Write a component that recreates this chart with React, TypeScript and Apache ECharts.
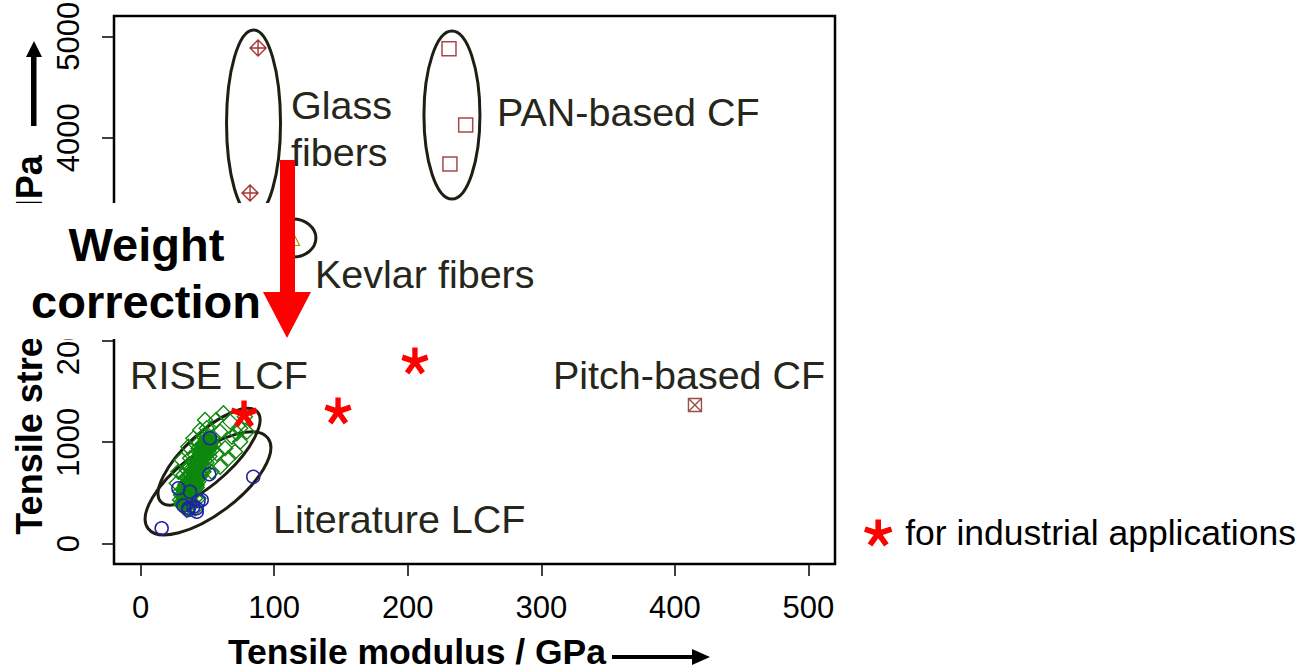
import React, { useEffect, useRef } from 'react';
import * as echarts from 'echarts';

// ---- data ----
const xTicks = [0, 100, 200, 300, 400, 500];
const yTicks = [0, 1000, 2000, 3000, 4000, 5000];

const glassFibers = [[87.9, 4885], [81.9, 3456]];
const panCF = [[230.9, 4878], [243.4, 4126], [231.6, 3742]];
const kevlarFibers = [[115.6, 2983]];
const pitchCF = [[415.1, 1367]];
const industrial = [[77.4, 1278], [147.8, 1308], [205.4, 1800]];

const riseLCF = [
  [62, 1285], [56.5, 1219], [67, 1203], [74.5, 1137], [78, 1252], [49.5, 1137], [59.5, 1104],
  [68.3, 1055], [74.5, 1005], [39.5, 1038], [35.7, 956], [63.2, 940], [70.7, 907], [57, 890],
  [65.7, 841], [59.5, 759], [30.7, 825], [28.2, 710], [27, 595], [48.2, 1219], [44.5, 1120],
  [79.5, 1104], [53.2, 710], [33.2, 545], [37, 414], [43.2, 447], [30.7, 414], [34.5, 332],
  [40.7, 348], [72, 1088], [52, 973], [45.7, 874],
  [32.0, 480], [34.5, 512], [37.0, 496], [33.3, 578], [35.8, 595], [38.3, 562], [39.5, 644],
  [37.0, 677], [34.5, 660], [40.8, 709], [38.3, 742], [42.0, 759], [35.8, 759], [39.5, 808],
  [43.3, 824], [44.5, 874], [40.8, 874], [37.0, 841], [45.8, 923], [48.3, 939], [43.3, 939],
  [42.0, 972], [47.0, 989], [49.5, 1005], [50.8, 939], [45.8, 792], [47.0, 709], [43.3, 660],
  [42.0, 578], [39.5, 529], [40.8, 447], [38.3, 414], [35.8, 447], [33.3, 397], [37.0, 365],
  [29.5, 512], [32.0, 677], [34.5, 726], [48.3, 857], [44.5, 709],
  [30.75, 381], [34.5, 365], [29.5, 430], [32.75, 443], [36.5, 420], [30.25, 480], [35, 506],
  [38.75, 486], [32, 529], [37, 568], [40.75, 545], [34, 594], [39.25, 631], [43, 611],
  [36.25, 657], [41.25, 693], [45, 670], [38.25, 716], [43.5, 755], [47.25, 736], [40.5, 782],
  [45.5, 818], [49.25, 798], [42.5, 844], [47.75, 880], [51.5, 861], [44.75, 907], [49.75, 943],
  [53.5, 923], [46.75, 969], [52, 1005], [55, 979], [49, 1031],
  [31, 400], [33, 420], [35, 400], [32, 460], [34, 470], [36, 455], [38, 470], [33, 500],
  [35, 540], [37, 520], [39, 505], [36, 560], [38, 590], [40, 570], [42, 555], [37, 620],
  [39, 610], [41, 600], [43, 640], [38, 650], [40, 680], [42, 670], [44, 690], [40, 730],
  [42, 720], [44, 740], [46, 720], [41, 770], [43, 790], [45, 780], [47, 770], [44, 830],
  [46, 840], [48, 820], [45, 860], [47, 900], [49, 880], [51, 900], [46, 950], [48, 960],
  [50, 980], [52, 950], [49, 1020], [51, 1040], [53, 1000], [47, 1060], [50, 1070], [54, 1050]
];

const literatureLCF = [
  [15.7, 152], [84.3, 660], [51.4, 684], [51.9, 1039], [28.2, 546], [35.7, 349], [41.9, 349],
  [36.9, 512], [45.7, 431], [32, 375], [39.5, 365], [43.3, 420], [35.8, 332], [42, 315]
];

// group ellipse centres in data units
const groupNames = ['Glass fibers', 'PAN-based CF', 'Kevlar fibers', 'RISE LCF', 'Literature LCF'];
const groupCenters = [[84.5, 4146], [233.1, 4224], [114, 3012], [51.2, 857], [50.4, 595]];

// ---- styling ----
const ellipseShapes = [
  { rx: 27, ry: 93, angle: 0 },
  { rx: 28, ry: 84, angle: 0 },
  { rx: 23, ry: 19, angle: 0 },
  { rx: 66, ry: 24, angle: 43 },
  { rx: 75, ry: 31, angle: 37 }
];

const FONT = '"Liberation Sans", Arial, Helvetica, sans-serif';
const LABEL_COLOR = '#26261a';

function asteriskPath() {
  const L = 50, w = 10;
  let d = '';
  for (const deg of [-90, -18, 54, 126, 198]) {
    const t = (deg * Math.PI) / 180;
    const dx = Math.cos(t), dy = Math.sin(t);
    const nx = -dy, ny = dx;
    const pts = [
      [nx * w, ny * w],
      [nx * w + dx * L, ny * w + dy * L],
      [-nx * w + dx * L, -ny * w + dy * L],
      [-nx * w, -ny * w]
    ];
    d += 'M' + pts.map((p) => (p[0] + 60).toFixed(2) + ' ' + (p[1] + 60).toFixed(2)).join(' L') + ' Z ';
  }
  return 'path://' + d;
}
const ASTERISK = asteriskPath();
const DIAMOND_PLUS = 'path://M10 0 L20 10 L10 20 L0 10 Z M10 0 L10 20 M0 10 L20 10';
const SQUARE_X = 'path://M0 0 L20 0 L20 20 L0 20 Z M0 0 L20 20 M20 0 L0 20';

function txt(text: string, x: number, y: number, extra: any = {}) {
  return {
    type: 'text',
    x,
    y,
    z: 50,
    silent: true,
    style: {
      text,
      fontSize: 39.5,
      fontFamily: FONT,
      fill: LABEL_COLOR,
      align: 'left',
      verticalAlign: 'middle',
      textAlign: 'left',
      textVerticalAlign: 'middle',
      ...extra
    }
  };
}

export default function App() {
  const ref = useRef<HTMLDivElement>(null);
  useEffect(() => {
    if (!ref.current) return;
    const chart = echarts.init(ref.current, undefined, { renderer: 'svg' });
    const plain = (v: number) => String(v);
    const option: any = {
      animation: false,
      backgroundColor: '#fff',
      grid: {
        left: 114, top: 16, right: 473, bottom: 104,
        show: true, borderColor: '#000', borderWidth: 2.5,
        outerBoundsMode: 'none', containLabel: false
      },
      legend: {
        data: [{ name: 'for industrial applications', icon: ASTERISK }],
        left: 859, top: 510,
        itemWidth: 44, itemHeight: 27,
        selectedMode: false,
        textStyle: { fontSize: 35.5, color: '#000', fontFamily: FONT }
      },
      xAxis: {
        type: 'value', min: -20, max: 520,
        name: 'Tensile modulus / GPa',
        nameLocation: 'middle', nameGap: 75, nameMoveOverlap: false,
        nameTextStyle: { fontSize: 35.5, lineHeight: 26, fontWeight: 'bold', color: '#000', fontFamily: FONT, padding: [0, 115, 0, 0] },
        splitLine: { show: false },
        axisLine: { show: false, onZero: false },
        axisTick: { show: true, length: 12, lineStyle: { color: '#000', width: 1.5 }, customValues: xTicks },
        axisLabel: { customValues: xTicks, formatter: plain, fontSize: 31, color: '#000', fontFamily: FONT, margin: 28 }
      },
      yAxis: {
        type: 'value', min: -200, max: 5200,
        name: 'Tensile strength / MPa',
        nameLocation: 'middle', nameGap: 67, nameRotate: 90, nameMoveOverlap: false,
        nameTextStyle: { fontSize: 36, fontWeight: 'bold', color: '#000', fontFamily: FONT, padding: [0, 110, 0, 0] },
        splitLine: { show: false },
        axisLine: { show: false, onZero: false },
        axisTick: { show: true, length: 12, lineStyle: { color: '#000', width: 1.5 }, customValues: yTicks },
        axisLabel: { customValues: yTicks, formatter: plain, fontSize: 31, color: '#000', fontFamily: FONT, margin: 30, rotate: 90 }
      },
      series: [
        {
          name: 'RISE LCF', type: 'scatter', data: riseLCF, symbol: 'diamond', symbolSize: 15, silent: true,
          itemStyle: { color: 'rgba(0,0,0,0)', borderColor: '#0e880e', borderWidth: 1.4, opacity: 1 }
        },
        {
          name: 'Literature LCF', type: 'scatter', data: literatureLCF, symbol: 'circle', symbolSize: 13, silent: true,
          itemStyle: { color: 'rgba(0,0,0,0)', borderColor: '#2020a8', borderWidth: 1.5, opacity: 1 }
        },
        {
          name: 'Glass fibers', type: 'scatter', data: glassFibers, symbol: DIAMOND_PLUS, symbolSize: 16, silent: true,
          itemStyle: { color: 'rgba(0,0,0,0)', borderColor: '#a83232', borderWidth: 1.4, opacity: 1 }
        },
        {
          name: 'PAN-based CF', type: 'scatter', data: panCF, symbol: 'rect', symbolSize: 14, silent: true,
          itemStyle: { color: 'rgba(0,0,0,0)', borderColor: '#a8484a', borderWidth: 1.5, opacity: 1 }
        },
        {
          name: 'Kevlar fibers', type: 'scatter', data: kevlarFibers, symbol: 'triangle', symbolSize: 9, silent: true,
          itemStyle: { color: 'rgba(0,0,0,0)', borderColor: '#b8860b', borderWidth: 1.2, opacity: 1 }
        },
        {
          name: 'Pitch-based CF', type: 'scatter', data: pitchCF, symbol: SQUARE_X, symbolSize: 13, silent: true,
          itemStyle: { color: 'rgba(0,0,0,0)', borderColor: '#9a4f42', borderWidth: 1.4, opacity: 1 }
        },
        {
          name: 'groups', type: 'custom', silent: true, clip: false,
          data: groupCenters.map((c, i) => ({ name: groupNames[i], value: c })),
          renderItem: (params: any, api: any) => {
            const p = api.coord([api.value(0), api.value(1)]);
            const s = ellipseShapes[params.dataIndex];
            return {
              type: 'ellipse',
              x: p[0], y: p[1],
              rotation: (s.angle * Math.PI) / 180,
              shape: { cx: 0, cy: 0, rx: s.rx, ry: s.ry },
              style: { fill: 'none', stroke: '#1e1e12', lineWidth: 3 }
            };
          }
        },
        {
          name: 'for industrial applications', type: 'scatter', data: industrial, symbol: ASTERISK,
          symbolSize: [27, 27], silent: true,
          itemStyle: { color: '#ff0000', opacity: 1 }
        }
      ],
      graphic: [
        txt('Glass', 291, 105),
        txt('fibers', 291, 152),
        txt('PAN-based CF', 497, 112),
        txt('Kevlar fibers', 315, 274),
        txt('RISE LCF', 130, 375),
        txt('Pitch-based CF', 553, 375),
        txt('Literature LCF', 273, 519),
        // y axis arrow
        { type: 'rect', z: 50, silent: true, shape: { x: 31, y: 55, width: 5.5, height: 71 }, style: { fill: '#000' } },
        { type: 'polygon', z: 50, silent: true, shape: { points: [[26, 57], [42, 57], [34, 41]] }, style: { fill: '#000' } },
        // x axis arrow
        { type: 'rect', z: 50, silent: true, shape: { x: 612, y: 655, width: 82, height: 4 }, style: { fill: '#000' } },
        { type: 'polygon', z: 50, silent: true, shape: { points: [[692, 649], [692, 665], [710, 657]] }, style: { fill: '#000' } },
        // white overlay box
        { type: 'rect', z: 100, silent: true, shape: { x: 0, y: 203, width: 283, height: 136 }, style: { fill: '#fff' } },
        // weight correction text
        {
          type: 'text', z: 101, x: 146.5, y: 244, silent: true,
          style: { text: 'Weight', fontSize: 47, fontWeight: 'bold', fontFamily: FONT, fill: '#000', align: 'center', verticalAlign: 'middle', textAlign: 'center', textVerticalAlign: 'middle' }
        },
        {
          type: 'text', z: 101, x: 146, y: 301, silent: true,
          style: { text: 'correction', fontSize: 47, fontWeight: 'bold', fontFamily: FONT, fill: '#000', align: 'center', verticalAlign: 'middle', textAlign: 'center', textVerticalAlign: 'middle' }
        },
        // red arrow
        { type: 'rect', z: 101, silent: true, shape: { x: 280, y: 160, width: 15, height: 134 }, style: { fill: '#ff0000' } },
        { type: 'polygon', z: 101, silent: true, shape: { points: [[263, 292], [311, 292], [287, 338]] }, style: { fill: '#ff0000' } }
      ]
    };
    chart.setOption(option);
    return () => chart.dispose();
  }, []);
  return <div ref={ref} style={{ position: 'fixed', left: 0, top: 0, width: 1308, height: 668 }} />;
}
